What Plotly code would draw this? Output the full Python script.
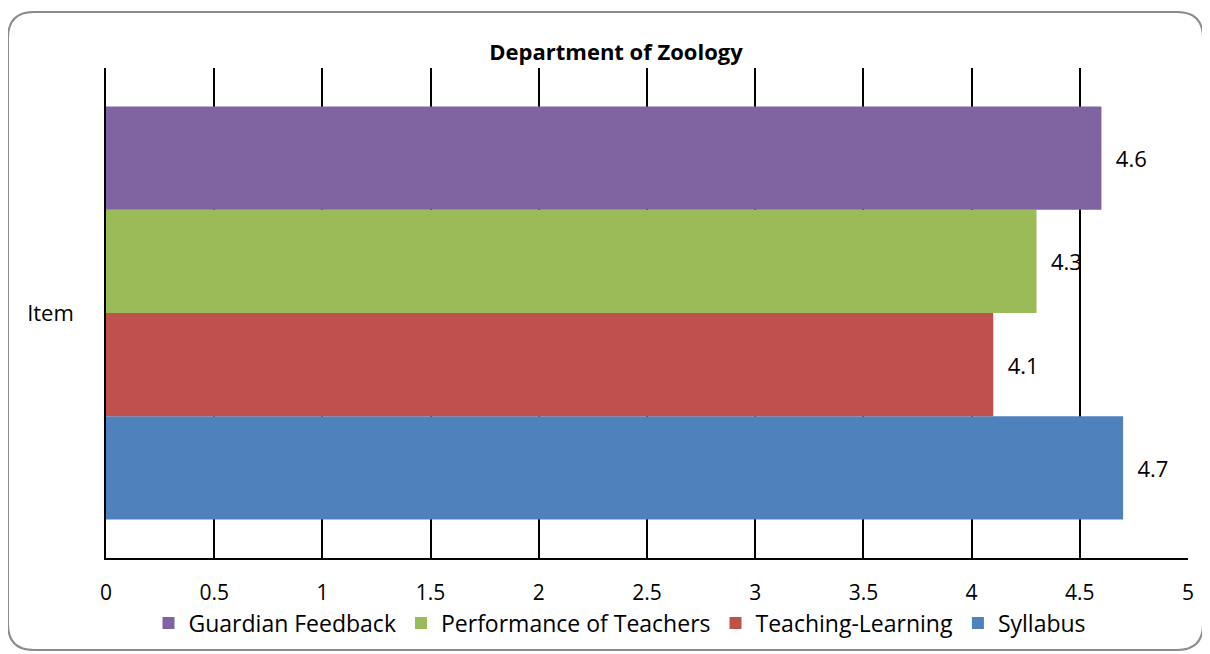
import plotly.graph_objects as go

categories = ["Item"]
series_names = ["Syllabus", "Teaching-Learning", "Performance of Teachers", "Guardian Feedback"]
series_values = [[4.7], [4.1], [4.3], [4.6]]
series_colors = ["#4F81BD", "#C0504D", "#9BBB59", "#8064A2"]
x_ticks = [0, 0.5, 1, 1.5, 2, 2.5, 3, 3.5, 4, 4.5, 5]
x_tick_labels = ["0", "0.5", "1", "1.5", "2", "2.5", "3", "3.5", "4", "4.5", "5"]

# page body has an 8px default margin, so the figure is laid out 8px smaller
OFF = 8
W, H = 1210 - OFF, 654 - OFF
ML, MR, MT, MB = 106 - OFF, 22, 68 - OFF, 96
FONT = "Open Sans"
FS = 23

fig = go.Figure()
for name, vals, col in zip(series_names, series_values, series_colors):
    fig.add_trace(go.Bar(
        y=categories, x=vals, name=name, orientation="h",
        marker=dict(color=col, line=dict(width=0)),
        text=[str(v) for v in vals],
        texttemplate="\u00a0\u00a0%{text}",
        textposition="outside", cliponaxis=False,
        textfont=dict(family=FONT, size=22, color="#000000"),
    ))

pw, ph = W - ML - MR, H - MT - MB
def px(x):
    return (x - OFF - ML) / pw
def py(y):
    return (H - MB - (y - OFF)) / ph

# rounded outer border (reference screen coordinates)
x0, x1, y0, y1, r = 8, 1203, 12, 650, 26
path = (f"M {px(x0+r)},{py(y0)} L {px(x1-r)},{py(y0)} Q {px(x1)},{py(y0)} {px(x1)},{py(y0+r)} "
        f"L {px(x1)},{py(y1-r)} Q {px(x1)},{py(y1)} {px(x1-r)},{py(y1)} "
        f"L {px(x0+r)},{py(y1)} Q {px(x0)},{py(y1)} {px(x0)},{py(y1-r)} "
        f"L {px(x0)},{py(y0+r)} Q {px(x0)},{py(y0)} {px(x0+r)},{py(y0)} Z")

fig.update_layout(
    width=W, height=H, autosize=False,
    margin=dict(l=ML, r=MR, t=MT, b=MB, autoexpand=False),
    paper_bgcolor="white", plot_bgcolor="white",
    barmode="group", bargap=0.157, bargroupgap=0,
    font=dict(family=FONT, size=FS, color="#000000"),
    title=dict(text="<b>Department of Zoology</b>", x=(616 - OFF) / W, xanchor="center",
               y=1 - (52 - OFF) / H, yanchor="middle", font=dict(family=FONT, size=22)),
    xaxis=dict(range=[0, 5], tickvals=x_ticks, ticktext=x_tick_labels,
               tickfont=dict(family=FONT, size=21),
               showgrid=True, gridcolor="#000000", gridwidth=1.5,
               showline=True, linecolor="#000000", linewidth=1.5,
               zeroline=False, ticks="", ticklabelstandoff=15, fixedrange=True,
               automargin=False),
    yaxis=dict(showgrid=False, showline=True, linecolor="#000000", linewidth=1.5,
               tickfont=dict(family=FONT, size=22),
               ticks="", ticklabelstandoff=26, fixedrange=True, automargin=False),
    legend=dict(orientation="h", traceorder="reversed", x=(620 - OFF) / W, xanchor="center",
                xref="container", y=1 - (623 - OFF) / H, yref="container", yanchor="middle",
                font=dict(family=FONT, size=FS), itemwidth=30, bgcolor="rgba(0,0,0,0)"),
    shapes=[dict(type="path", path=path, xref="paper", yref="paper",
                 line=dict(color="#8C8C8C", width=2), layer="above")],
)

fig.write_html("out.html")
